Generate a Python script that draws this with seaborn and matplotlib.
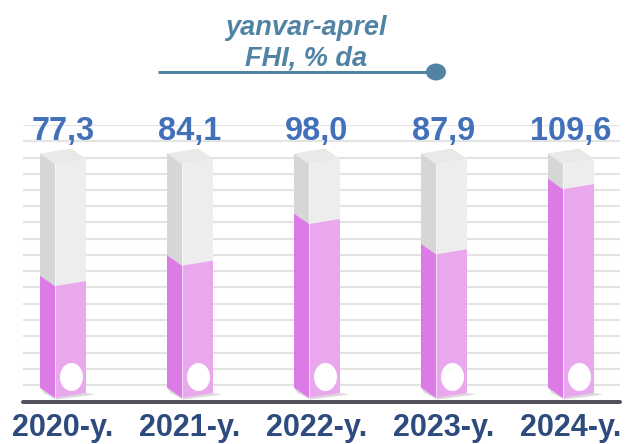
import numpy as np
import matplotlib
matplotlib.use("Agg")
import matplotlib.pyplot as plt
from matplotlib.patches import Polygon, Ellipse
from matplotlib.transforms import Affine2D, blended_transform_factory
import seaborn as sns

# ---- data -------------------------------------------------------------
years = ["2020-y.", "2021-y.", "2022-y.", "2023-y.", "2024-y."]
values = [77.3, 84.1, 98.0, 87.9, 109.6]
value_labels = ["77,3", "84,1", "98,0", "87,9", "109,6"]
title_lines = ["yanvar-aprel", "FHI, % da"]

BASE = 40.0     # value at the foot of the columns
CASING = 118.0  # top of the grey column casing

# ---- colours ----------------------------------------------------------
PINK_FRONT = "#E9A8EE"
PINK_SIDE = "#DC7BE6"
GREY_FRONT = "#EDEDED"
GREY_SIDE = "#D6D6D6"
GREY_TOP = "#E9E9E9"
SHADOW = "#D9D9D9"
GRID = "#E3E3E3"
BASELINE = "#51545F"
VALUE_C = "#4270B9"
YEAR_C = "#2E4B7E"
TITLE_C = "#5184A4"

# ---- geometry (pixels) ------------------------------------------------
W, H, DPI = 635, 444, 100
L_PX, R_PX, B_PX, T_PX = 23, 620, 402, 125
FOOT_PX = 398          # pixel row of the column feet
STEP_PX = 127.0        # pixels between columns
Y_PX = 3.0             # pixels per value unit
FRONT_C = 70.5         # centre of the first column front face
FRONT_W = 31.0         # front face width
DEPTH_X, DEPTH_Y = 15.0, 10.5   # side face offset
SLANT = 5.0            # rise of the front face across its width

sns.set_theme(style="white")
plt.rcParams["font.family"] = ["Liberation Sans", "DejaVu Sans"]

fig = plt.figure(figsize=(W / DPI, H / DPI), dpi=DPI)
fig.patch.set_facecolor("white")
ax = fig.add_axes([L_PX / W, 1 - B_PX / H, (R_PX - L_PX) / W, (B_PX - T_PX) / H])


def dx(px):
    return px / STEP_PX


def dy(px):
    return px / Y_PX


bw = dx(FRONT_W)

# grey casing and pink fill, front faces
sns.barplot(x=years, y=[CASING - BASE] * len(years), bottom=BASE, color=GREY_FRONT,
            saturation=1, width=bw, errorbar=None, ax=ax, zorder=2, linewidth=0)
sns.barplot(x=years, y=np.array(values) - BASE, bottom=BASE, color=PINK_FRONT,
            saturation=1, width=bw, errorbar=None, ax=ax, zorder=3, linewidth=0)

ax.set_xlim((L_PX - FRONT_C) / STEP_PX, (R_PX - FRONT_C) / STEP_PX)
ax.set_ylim(BASE - dy(B_PX - FOOT_PX), BASE + dy(FOOT_PX - T_PX))

# lean the front faces so their right edge sits higher
k = dy(SLANT) / bw
for p in ax.patches:
    x0 = p.get_x()
    shear = Affine2D(np.array([[1, 0, 0], [k, 1, -k * x0], [0, 0, 1]]))
    p.set_transform(shear + ax.transData)

sx, sy, sl = dx(DEPTH_X), dy(DEPTH_Y), dy(SLANT)
for i, v in enumerate(values):
    x0 = i - bw / 2
    # shadow at the foot
    ax.add_patch(Polygon([(x0 - sx, BASE + sy), (x0 - sx + dx(3), BASE + sy - dy(5)),
                          (x0 + dx(1), BASE - dy(1.5)), (x0 + bw + dx(9), BASE + sl - dy(1.5)),
                          (x0 + bw, BASE + sl)], closed=True, fc=SHADOW, ec="none", zorder=1.5))
    # side faces
    ax.add_patch(Polygon([(x0, BASE), (x0, v), (x0 - sx, v + sy), (x0 - sx, BASE + sy)],
                         closed=True, fc=PINK_SIDE, ec="none", zorder=3))
    ax.add_patch(Polygon([(x0, v), (x0, CASING), (x0 - sx, CASING + sy), (x0 - sx, v + sy)],
                         closed=True, fc=GREY_SIDE, ec="none", zorder=2))
    # top of the casing
    ax.add_patch(Polygon([(x0, CASING), (x0 + bw, CASING + sl), (x0 + bw - sx, CASING + sl + sy),
                          (x0 - sx, CASING + sy)], closed=True, fc=GREY_TOP, ec="none", zorder=2))
    # edge highlight
    ax.plot([x0, x0], [BASE, CASING], color="white", lw=0.6, alpha=0.7, zorder=3.5)
    # white disc near the foot
    ax.add_patch(Ellipse((i + dx(1), BASE + dy(21)), dx(23), dy(28), fc="white", ec="none", zorder=4))

# value labels on one line above the columns
lab_tr = blended_transform_factory(ax.transData, ax.transAxes)
for i, t in enumerate(value_labels):
    ax.text(i - dx(DEPTH_X / 2), (B_PX - 140) / (B_PX - T_PX), t, transform=lab_tr,
            ha="center", va="baseline", fontsize=23.5, fontweight="bold", color=VALUE_C,
            clip_on=False, zorder=5)

# grid, ticks, spines
grid_y = np.linspace(BASE + dy(FOOT_PX - 385), BASE + dy(FOOT_PX - T_PX), 17)
ax.set_yticks(grid_y)
ax.set_yticklabels([])
ax.grid(axis="y", color=GRID, lw=1.5)
ax.grid(axis="x", visible=False)
ax.set_axisbelow(True)
ax.set_xticks(np.arange(len(years)) - dx(DEPTH_X / 2))
ax.set_xticklabels(years, fontsize=22, fontweight="bold", color=YEAR_C)
ax.tick_params(axis="both", length=0)
ax.tick_params(axis="x", pad=8)
ax.set_xlabel("")
ax.set_ylabel("")
for s in ("left", "right", "top"):
    ax.spines[s].set_visible(False)
ax.spines["bottom"].set_color(BASELINE)
ax.spines["bottom"].set_linewidth(4 * 72 / DPI)
ax.spines["bottom"].set_capstyle("round")
ax.spines["bottom"].set_zorder(6)
ax.patch.set_alpha(0)

# heading with its rule
ov = fig.add_axes([0, 0, 1, 1], zorder=5)
ov.set_xlim(0, W)
ov.set_ylim(H, 0)
ov.axis("off")
ov.patch.set_alpha(0)
ov.plot([158, 428], [72, 72], color=TITLE_C, lw=3 * 72 / DPI, solid_capstyle="butt")
ov.add_patch(Ellipse((436, 72), 20, 17, fc=TITLE_C, ec="none"))
for t, yb in zip(title_lines, (35, 66)):
    ov.text(306, yb, t, ha="center", va="baseline", fontsize=19.5, fontweight="bold",
            fontstyle="italic", color=TITLE_C)

fig.savefig("out.png", dpi=DPI)
